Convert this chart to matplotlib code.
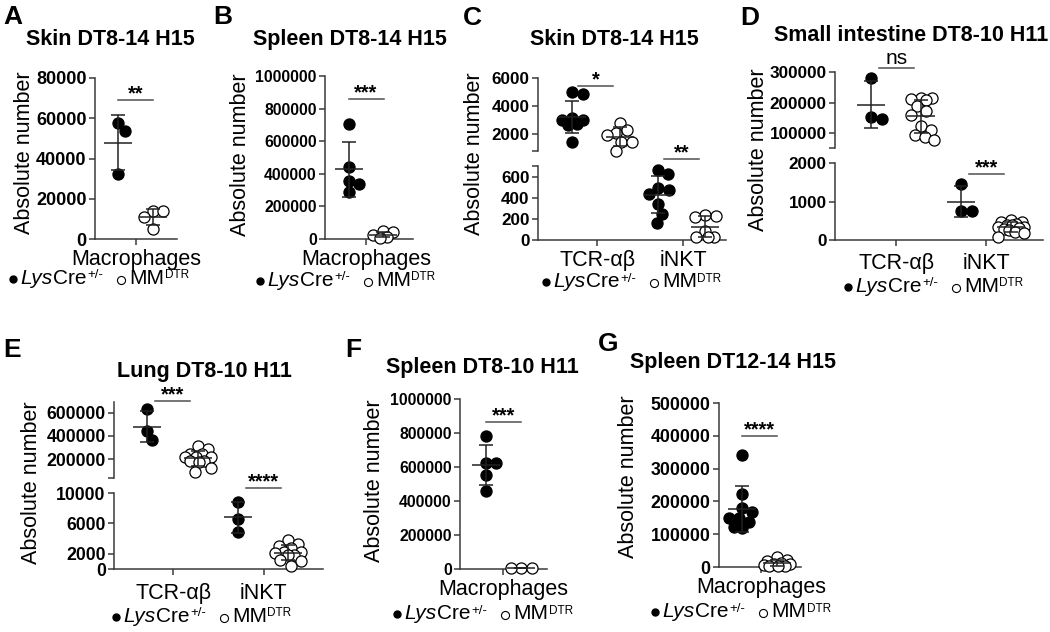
import numpy as np
import matplotlib
matplotlib.use("Agg")
import matplotlib.pyplot as plt
from matplotlib.lines import Line2D

plt.rcParams['font.family'] = ['Liberation Sans', 'DejaVu Sans']

# ---- data ----
a_cre = [57500, 53800, 32100]
a_mm = [13800, 13800, 10800, 5100]

b_cre = [708000, 444000, 356000, 336000, 291000]
b_mm = [49000, 41000, 25000, 14000, 8000]

c_tcr_cre = [4970, 4850, 3130, 3010, 3010, 2690, 2650, 1450]
c_tcr_mm = [2800, 2250, 2100, 1900, 1450, 1400, 800]
c_nkt_cre = [660, 625, 492, 476, 438, 343, 248, 159]
c_nkt_mm = [232, 229, 222, 86, 32, 32, 32]

d_tcr_cre = [281500, 154000, 146000]
d_tcr_mm = [216000, 216000, 213000, 208000, 188000, 173000, 159000, 123000, 112000, 96000, 88000, 77000]
d_nkt_cre = [1461, 757, 757]
d_nkt_mm = [520, 480, 470, 420, 400, 380, 350, 330, 300, 280, 250, 220, 180, 90]

e_tcr_cre = [631000, 446000, 366000]
e_tcr_mm = [309000, 289000, 246000, 243000, 214000, 214000, 214000, 186000, 180000, 171000, 123000, 86000]
e_nkt_cre = [8870, 6610, 4870]
e_nkt_mm = [3830, 3300, 3040, 2740, 2220, 2220, 2090, 1780, 1780, 1130, 1000, 435]

f_cre = [780000, 626000, 626000, 555000, 461000]
f_mm = [6000, 5000, 4000]

g_cre = [341000, 223000, 180000, 169000, 149000, 149000, 136000, 122000, 119000]
g_mm = [30000, 22000, 18000, 12000, 10000, 8000, 6000, 4000, 3000, 2000]

cells = ['TCR-αβ', 'iNKT']
macro = ['Macrophages']

W, H = 1050, 632
fig = plt.figure(figsize=(W / 100, H / 100), dpi=100)
renderer = fig.canvas.get_renderer()
AXC = '#3a3a3a'
EBC = '#222222'


def make_ax(l, t, r, b):
    return fig.add_axes([l / W, 1 - b / H, (r - l) / W, (b - t) / H])


def ftext(x, y, s, **kw):
    return fig.text(x / W, 1 - y / H, s, **kw)


def style(ax, yt, ylab, fs, xt=None, xlab=None, xpad=2):
    for s in ['top', 'right']:
        ax.spines[s].set_visible(False)
    ax.spines['left'].set_color(AXC)
    ax.spines['left'].set_linewidth(1.1)
    ax.set_yticks(yt, ylab, fontweight='bold', fontsize=fs)
    ax.tick_params(axis='y', length=4.5, width=1.1, color=AXC, pad=1.5)
    if xt is None:
        ax.spines['bottom'].set_visible(False)
        ax.tick_params(axis='x', bottom=False, labelbottom=False)
    else:
        ax.spines['bottom'].set_color(AXC)
        ax.spines['bottom'].set_linewidth(1.1)
        ax.set_xticks(xt, xlab, fontsize=15.5)
        ax.tick_params(axis='x', length=4.5, width=1.1, color=AXC, pad=xpad)


def swarm(ax, xc, vals, d=10.5, maxw=13):
    pts = ax.transData.transform(np.column_stack([np.full(len(vals), xc), vals]))
    placed = []
    cands = np.arange(-maxw, maxw + 0.25, 0.5)
    cands = cands[np.argsort(np.abs(cands) + 1e-3 * (cands < 0))]
    for x0, y0 in pts:
        best, best_d = 0.0, -1
        for dx in cands:
            if placed:
                md = min(np.hypot(x0 + dx - px, y0 - py) for px, py in placed)
            else:
                md = 1e9
            if md >= d:
                best = dx
                break
            if md > best_d:
                best, best_d = dx, md
        placed.append((x0 + best, y0))
    xy = ax.transData.inverted().transform(np.array(placed))
    return xy[:, 0]


def group(ax, xc, vals, filled):
    xs = swarm(ax, xc, vals)
    ax.plot(xs, vals, 'o', ms=8.0, mfc='black' if filled else 'white', mec='black',
            mew=0.9, ls='none', clip_on=False, zorder=3)
    m = np.mean(vals)
    sd = np.std(vals, ddof=1)
    ax.errorbar([xc], [m], yerr=[sd], fmt='none', ecolor=EBC, elinewidth=1.1,
                capsize=5, capthick=1.1, zorder=4)
    ax.plot([xc], [m], marker='_', ms=20, mew=1.1, color=EBC, zorder=4)


def sig(ax, xm, y, txt, half_px=17.5):
    x0 = ax.transData.transform((xm, y))[0]
    xa = ax.transData.inverted().transform((x0 - half_px, 0))[0]
    xb = ax.transData.inverted().transform((x0 + half_px, 0))[0]
    ax.plot([xa, xb], [y, y], color='#505050', lw=1.1, clip_on=False)
    if txt == 'ns':
        ax.annotate(txt, xy=(xm, y), xytext=(0, 3), textcoords='offset points',
                    ha='center', va='baseline', fontsize=15, annotation_clip=False)
    else:
        ax.annotate(txt, xy=(xm, y), xytext=(0, 0.5), textcoords='offset points',
                    ha='center', va='baseline', fontsize=14.5, fontweight='bold',
                    annotation_clip=False)


def legend(xc, yb):
    # markers: (kind, width_px, gap_after); texts: (text, size, style, raise_px, gap_after)
    parts = [('dot', 8, 3), ('Lys', 15, 'italic', 0, 0), ('Cre', 15, 'normal', 0, 1),
             ('+/-', 9.5, 'normal', 5.5, 13), ('ring', 9, 4), ('MM', 15, 'normal', 0, 0.5),
             ('DTR', 8.5, 'normal', 5.5, 0)]
    objs, total = [], 0
    for p in parts:
        if p[0] in ('dot', 'ring'):
            objs.append((p[0], p[1], p[2]))
            total += p[1] + p[2]
        else:
            s, fs, st, dy, gap = p
            t = ftext(0, yb - dy, s, fontsize=fs, style=st, va='baseline', ha='left')
            w = t.get_window_extent(renderer).width
            objs.append((t, w, gap))
            total += w + gap
    x = xc - total / 2
    for o, w, gap in objs:
        if o == 'dot':
            fig.add_artist(Line2D([(x + w / 2) / W], [1 - (yb - 5.5) / H], transform=fig.transFigure,
                                  marker='o', ms=5.0, mfc='black', mec='black', ls='none'))
        elif o == 'ring':
            fig.add_artist(Line2D([(x + w / 2) / W], [1 - (yb - 4.5) / H], transform=fig.transFigure,
                                  marker='o', ms=5.8, mfc='white', mec='black', mew=0.8, ls='none'))
        else:
            o.set_x(x / W)
        x += w + gap


def labels(letter, lx, ly, title, tx, ty, ylx, yly, legx, legy):
    ftext(lx, ly, letter, fontsize=19, fontweight='bold', va='top', ha='left')
    ftext(tx, ty, title, fontsize=15.5, fontweight='bold', ha='center', va='baseline')
    ftext(ylx, yly, 'Absolute number', fontsize=15.5, rotation=90, ha='center', va='center')
    legend(legx, legy)


# ---- A ----
ax = make_ax(95, 78, 177, 239)
ax.set_xlim(-1, 1)
ax.set_ylim(0, 80000)
yt = [0, 20000, 40000, 60000, 80000]
style(ax, yt, [str(v) for v in yt], 13, [0], macro, xpad=3.0)
group(ax, -0.44, a_cre, True)
group(ax, 0.41, a_mm, False)
sig(ax, -0.015, 69000, '**')
labels('A', 3, 5, 'Skin DT8-14 H15', 110, 45, 25, 153, 99, 284)

# ---- B ----
ax = make_ax(325, 76, 413, 239)
ax.set_xlim(-1, 1.146)
ax.set_ylim(0, 1000000)
yt = [0, 200000, 400000, 600000, 800000, 1000000]
style(ax, yt, [str(v) for v in yt], 11.3, [0], macro, xpad=2.5)
group(ax, -0.41, b_cre, True)
group(ax, 0.41, b_mm, False)
sig(ax, 0.0, 859000, '***')
labels('B', 213, 5, 'Spleen DT8-14 H15', 350, 45, 240, 155, 346, 286)

# ---- C ----
up = make_ax(538, 78, 726, 151)
lo = make_ax(538, 166, 726, 240)
for a in (up, lo):
    a.set_xlim(-0.69, 1.5)
up.set_ylim(780, 6000)
lo.set_ylim(0, 700)
style(up, [780, 2000, 4000, 6000], ['', '2000', '4000', '6000'], 12.3)
style(lo, [0, 200, 400, 600, 700], ['0', '200', '400', '600', ''], 12.3, [0, 1], cells, xpad=2.5)
group(up, -0.29, c_tcr_cre, True)
group(up, 0.26, c_tcr_mm, False)
group(lo, 1 - 0.29, c_nkt_cre, True)
group(lo, 1 + 0.26, c_nkt_mm, False)
sig(up, -0.015, 5430, '*')
sig(lo, 0.985, 766, '**')
labels('C', 463, 6, 'Skin DT8-14 H15', 614, 45, 475, 154, 632, 287)

# ---- D ----
up = make_ax(835, 72, 1043, 148)
lo = make_ax(835, 163, 1043, 240)
for a in (up, lo):
    a.set_xlim(-0.68, 1.63)
up.set_ylim(52000, 300000)
lo.set_ylim(0, 2000)
style(up, [52000, 100000, 200000, 300000], ['', '100000', '200000', '300000'], 12.3)
style(lo, [0, 1000, 2000], ['0', '1000', '2000'], 12.3, [0, 1], cells, xpad=5)
group(up, -0.28, d_tcr_cre, True)
group(up, 0.28, d_tcr_mm, False)
group(lo, 1 - 0.28, d_nkt_cre, True)
group(lo, 1 + 0.28, d_nkt_mm, False)
sig(up, 0.0, 313000, 'ns')
sig(lo, 1.0, 1714, '***')
labels('D', 740, 6, 'Small intestine DT8-10 H11', 911, 41, 758, 150, 934, 292)

# ---- E ----
up = make_ax(114, 402, 323, 478)
lo = make_ax(114, 493, 323, 569)
for a in (up, lo):
    a.set_xlim(-0.65, 1.65)
up.set_ylim(35000, 695000)
lo.set_ylim(0, 10000)
style(up, [35000, 200000, 400000, 600000], ['', '200000', '400000', '600000'], 12.7)
style(lo, [0, 2000, 6000, 10000], ['0', '2000', '6000', '10000'], 12.7, [0, 1], cells, xpad=5.5)
group(up, -0.29, e_tcr_cre, True)
group(up, 0.27, e_tcr_mm, False)
group(lo, 1 - 0.29, e_nkt_cre, True)
group(lo, 1 + 0.27, e_nkt_mm, False)
sig(up, -0.01, 704000, '***')
sig(lo, 0.99, 10660, '****')
labels('E', 3, 338, 'Lung DT8-10 H11', 204, 377, 32, 483, 202, 622)

# ---- F ----
ax = make_ax(460, 399, 547, 569)
ax.set_xlim(-1, 1.02)
ax.set_ylim(0, 1000000)
yt = [0, 200000, 400000, 600000, 800000, 1000000]
style(ax, yt, [str(v) for v in yt], 11.3, [0], macro, xpad=2.5)
group(ax, -0.40, f_cre, True)
group(ax, 0.42, f_mm, False)
sig(ax, 0.01, 865000, '***')
labels('F', 345, 338, 'Spleen DT8-10 H11', 482, 373, 375, 481, 483, 619)

# ---- G ----
ax = make_ax(719, 403, 801, 567)
ax.set_xlim(-1.02, 0.98)
ax.set_ylim(0, 500000)
yt = [0, 100000, 200000, 300000, 400000, 500000]
style(ax, yt, [str(v) for v in yt], 12.8, [0], macro, xpad=2.7)
group(ax, -0.46, g_cre, True)
group(ax, 0.39, g_mm, False)
sig(ax, -0.035, 399000, '****')
labels('G', 598, 332, 'Spleen DT12-14 H15', 733, 368, 628, 477, 741, 617)

fig.savefig('out.png', dpi=100)
